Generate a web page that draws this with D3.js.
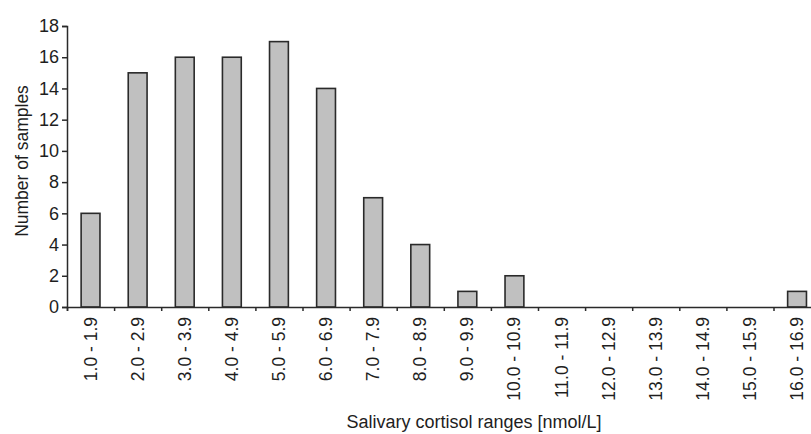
<!DOCTYPE html>
<html>
<head>
<meta charset="utf-8">
<script src="https://cdn.jsdelivr.net/npm/d3@7"></script>
<style>
  body { margin: 0; background: #fff; }
  svg { display: block; font-family: Arial, 'Liberation Sans', sans-serif; }
</style>
</head>
<body>
<div id="chart"></div>
<script>
// categories (salivary cortisol ranges, nmol/L)
const categories = ['1.0 - 1.9', '2.0 - 2.9', '3.0 - 3.9', '4.0 - 4.9', '5.0 - 5.9', '6.0 - 6.9',
  '7.0 - 7.9', '8.0 - 8.9', '9.0 - 9.9', '10.0 - 10.9', '11.0 - 11.9', '12.0 - 12.9',
  '13.0 - 13.9', '14.0 - 14.9', '15.0 - 15.9', '16.0 - 16.9'];
// number of samples per range
const counts = [6, 15, 16, 16, 17, 14, 7, 4, 1, 2, 0, 0, 0, 0, 0, 1];
const yTicks = [0, 2, 4, 6, 8, 10, 12, 14, 16, 18];

const W = 811, H = 434;
const plotLeft = 67, plotTop = 26, plotBottom = 307;
const bandW = 47.1;

const svg = d3.select('#chart').append('svg')
  .attr('width', W)
  .attr('height', H);

const xScale = d3.scaleBand()
  .domain(categories)
  .range([plotLeft, plotLeft + bandW * categories.length])
  .paddingInner(0.6)
  .paddingOuter(0.3);

// linear scale used only for the tick positions between categories
const xEdges = d3.scaleLinear()
  .domain([0, categories.length])
  .range([plotLeft, plotLeft + bandW * categories.length]);

const yScale = d3.scaleLinear()
  .domain([0, 18])
  .range([plotBottom, plotTop]);

const ink = '#2a2a2a';
const textInk = '#1e1e1e';

// bars
svg.append('g')
  .selectAll('rect')
  .data(counts)
  .enter()
  .append('rect')
    .attr('x', (d, i) => xScale(categories[i]))
    .attr('y', d => yScale(d))
    .attr('width', xScale.bandwidth())
    .attr('height', d => yScale(0) - yScale(d))
    .style('fill', '#c0c0c0')
    .style('stroke', ink)
    .style('stroke-width', 1.6);

// y axis
const yAxis = svg.append('g')
  .attr('transform', `translate(${plotLeft}, 0)`)
  .call(d3.axisLeft(yScale).tickValues(yTicks).tickSize(5).tickPadding(3));

yAxis.selectAll('text')
  .style('font-size', '18px')
  .style('fill', textInk);

// x axis: ticks at category boundaries, labels centered under bars
svg.append('g')
  .attr('transform', `translate(0, ${plotBottom})`)
  .call(d3.axisBottom(xEdges).tickValues(d3.range(0, categories.length + 1)).tickSize(4).tickFormat(''));

svg.selectAll('.domain, .tick line')
  .style('stroke', ink)
  .style('stroke-width', 1.5);

svg.append('g')
  .selectAll('text')
  .data(categories)
  .enter()
  .append('text')
    .attr('transform', d => `translate(${xScale(d) + xScale.bandwidth() / 2 + 6}, ${plotBottom + 10}) rotate(-90)`)
    .attr('text-anchor', 'end')
    .style('font-size', '17.5px')
    .style('fill', textInk)
    .text(d => d);

// axis titles
svg.append('text')
  .attr('x', 474)
  .attr('y', 428)
  .attr('text-anchor', 'middle')
  .style('font-size', '18px')
  .style('fill', textInk)
  .text('Salivary cortisol ranges [nmol/L]');

svg.append('text')
  .attr('transform', `translate(28, 161) rotate(-90)`)
  .attr('text-anchor', 'middle')
  .style('font-size', '17.5px')
  .style('fill', textInk)
  .text('Number of samples');
</script>
</body>
</html>
